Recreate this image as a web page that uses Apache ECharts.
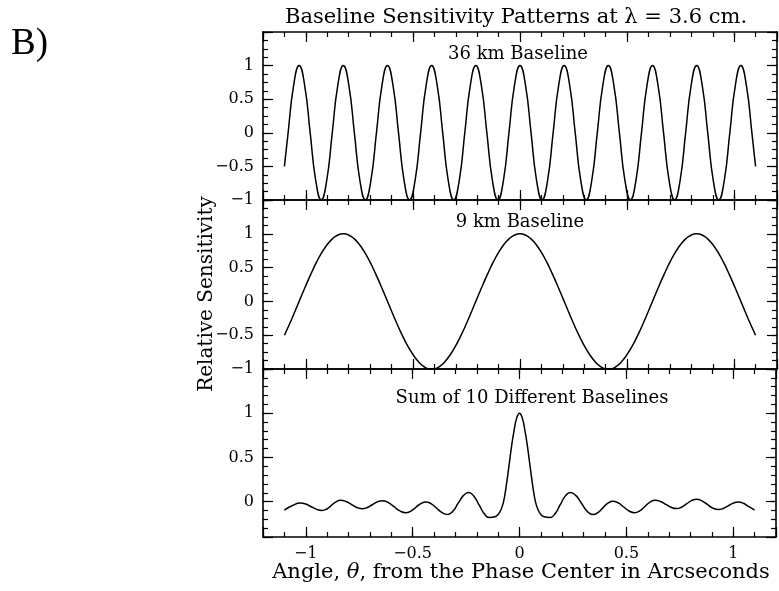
<!DOCTYPE html>
<html><head><meta charset="utf-8">
<script src="https://cdn.jsdelivr.net/npm/echarts@6/dist/echarts.min.js"></script>
<style>html,body{margin:0;padding:0;background:#fff}#c{width:779px;height:591px}</style>
</head><body><div id="c"></div>
<script>
// 36 km baseline (angle samples, sensitivity)
const x36 = [-1.1,-1.0828,-1.057,-1.0313,-1.0055,-0.9797,-0.9539,-0.9281,-0.9023,-0.8766,-0.8508,-0.825,-0.7992,-0.7734,-0.7477,-0.7219,-0.6961,-0.6703,-0.6445,-0.6188,-0.593,-0.5672,-0.5414,-0.5156,-0.4898,-0.4641,-0.4383,-0.4125,-0.3867,-0.3609,-0.3352,-0.3094,-0.2836,-0.2578,-0.232,-0.2063,-0.1805,-0.1547,-0.1289,-0.1031,-0.0773,-0.0516,-0.0258,0,0.0258,0.0516,0.0773,0.1031,0.1289,0.1547,0.1805,0.2063,0.232,0.2578,0.2836,0.3094,0.3352,0.3609,0.3867,0.4125,0.4383,0.4641,0.4898,0.5156,0.5414,0.5672,0.593,0.6188,0.6445,0.6703,0.6961,0.7219,0.7477,0.7734,0.7992,0.825,0.8508,0.8766,0.9023,0.9281,0.9539,0.9797,1.0055,1.0313,1.057,1.0828,1.1];
const y36 = [-0.5,
 0,0.707,1,0.707,0,-0.707,-1,-0.707,
 0,0.707,1,0.707,0,-0.707,-1,-0.707,
 0,0.707,1,0.707,0,-0.707,-1,-0.707,
 0,0.707,1,0.707,0,-0.707,-1,-0.707,
 0,0.707,1,0.707,0,-0.707,-1,-0.707,
 0,0.707,1,
 0.707,0,-0.707,-1,-0.707,0,0.707,1,
 0.707,0,-0.707,-1,-0.707,0,0.707,1,
 0.707,0,-0.707,-1,-0.707,0,0.707,1,
 0.707,0,-0.707,-1,-0.707,0,0.707,1,
 0.707,0,-0.707,-1,-0.707,0,0.707,1,
 0.707,0,
 -0.5];
// 9 km baseline
const x9 = [-1.1,-1.075,-1.05,-1.025,-1,-0.975,-0.95,-0.925,-0.9,-0.875,-0.85,-0.825,-0.8,-0.775,-0.75,-0.725,-0.7,-0.675,-0.65,-0.625,-0.6,-0.575,-0.55,-0.525,-0.5,-0.475,-0.45,-0.425,-0.4,-0.375,-0.35,-0.325,-0.3,-0.275,-0.25,-0.225,-0.2,-0.175,-0.15,-0.125,-0.1,-0.075,-0.05,-0.025,0,0.025,0.05,0.075,0.1,0.125,0.15,0.175,0.2,0.225,0.25,0.275,0.3,0.325,0.35,0.375,0.4,0.425,0.45,0.475,0.5,0.525,0.55,0.575,0.6,0.625,0.65,0.675,0.7,0.725,0.75,0.775,0.8,0.825,0.85,0.875,0.9,0.925,0.95,0.975,1,1.025,1.05,1.075,1.1];
const y9 = [-0.5,-0.327,-0.142,0.048,0.236,0.415,0.58,0.724,0.841,0.928,0.982,1,0.982,0.928,0.841,0.724,0.58,0.415,0.236,0.048,-0.142,-0.327,-0.5,-0.655,-0.786,-0.889,-0.96,-0.995,-0.995,-0.96,-0.889,-0.786,-0.655,-0.5,-0.327,-0.142,0.048,0.236,0.415,0.58,0.724,0.841,0.928,0.982,1,
 0.982,0.928,0.841,0.724,0.58,0.415,0.236,0.048,-0.142,-0.327,-0.5,-0.655,-0.786,-0.889,-0.96,-0.995,-0.995,-0.96,-0.889,-0.786,-0.655,-0.5,-0.327,-0.142,0.048,0.236,0.415,0.58,0.724,0.841,0.928,0.982,1,0.982,0.928,0.841,0.724,0.58,0.415,0.236,0.048,-0.142,-0.327,-0.5];
// Sum of 10 different baselines
const xSum = [-1.1,-1.0625,-1.025,-0.9995,-0.974,-0.9485,-0.923,-0.9015,-0.88,-0.8585,-0.837,-0.8115,-0.786,-0.7605,-0.735,-0.712,-0.6885,-0.665,-0.642,-0.6145,-0.587,-0.5595,-0.532,-0.5085,-0.485,-0.4615,-0.438,-0.4128,-0.3875,-0.3623,-0.337,-0.3123,-0.2875,-0.2628,-0.238,-0.2135,-0.189,-0.1645,-0.142,-0.115,-0.1,-0.0875,-0.075,-0.0625,-0.05,-0.0375,-0.025,-0.0125,0,
 0.0125,0.025,0.0375,0.05,0.0625,0.075,0.0875,0.1,0.115,0.142,0.166,0.19,0.214,0.238,0.2643,0.2905,0.3168,0.343,0.3665,0.39,0.4135,0.437,0.4623,0.4875,0.5128,0.538,0.5623,0.5865,0.6108,0.635,0.6598,0.6845,0.7093,0.734,0.7575,0.781,0.8045,0.828,0.8535,0.879,0.9045,0.93,0.9533,0.9765,0.9998,1.023,1.0473,1.0715,1.1];
const ySum = [-0.096,-0.044,-0.015,-0.0275,-0.0575,-0.0875,-0.1,-0.083,-0.0425,-0.002,0.015,0.001,-0.0325,-0.066,-0.08,-0.067,-0.035,-0.003,0.01,-0.01,-0.0575,-0.105,-0.125,-0.107,-0.0645,-0.022,-0.004,-0.025,-0.0745,-0.124,-0.145,-0.109,-0.0205,0.068,0.104,0.062,-0.038,-0.138,-0.18,-0.172,-0.145,-0.095,-0.005,0.17,0.39,0.62,0.81,0.95,1,
 0.95,0.81,0.62,0.39,0.17,-0.005,-0.095,-0.145,-0.172,-0.18,-0.138,-0.038,0.062,0.104,0.068,-0.0205,-0.109,-0.145,-0.123,-0.0705,-0.018,0.004,-0.015,-0.0605,-0.106,-0.125,-0.105,-0.055,-0.005,0.015,0.001,-0.0315,-0.064,-0.078,-0.063,-0.026,0.011,0.026,0.009,-0.032,-0.073,-0.09,-0.077,-0.047,-0.017,-0.004,-0.019,-0.0545,-0.095];
const xTickValues = [-1,-0.5,0,0.5,1];
const yTickValuesTop = [-1,-0.5,0,0.5,1];
const yTickValuesSum = [0,0.5,1];
const panelTitles = ['36 km Baseline','9 km Baseline','Sum of 10 Different Baselines'];
const mainTitle = 'Baseline Sensitivity Patterns at λ = 3.6 cm.';
const yName = 'Relative Sensitivity';

const FF = '"DejaVu Serif", serif';
const panels = [
  {top:32, height:168, ymin:-1, ymax:1.5, minor:0.125, labels:yTickValuesTop, tx:518, ty:54, xs:x36, ys:y36},
  {top:200, height:169, ymin:-1, ymax:1.5, minor:0.125, labels:yTickValuesTop, tx:520, ty:222, xs:x9, ys:y9},
  {top:369, height:168, ymin:-0.4, ymax:1.5, minor:0.1, labels:yTickValuesSum, tx:532, ty:398, xs:xSum, ys:ySum}
];
function fmt(v){ const r = Math.round(v*1000)/1000; return (r<0?'\u2212':'')+Math.abs(r); }
function inList(v, list){ return list.some(t=>Math.abs(t-v)<1e-6); }

const grid=[], xAxis=[], yAxis=[], series=[], graphic=[];
const axLine = {show:true, onZero:false, lineStyle:{color:'#000', width:1.6}};
const tickStyle = {color:'#000', width:1.2};
panels.forEach((p,i)=>{
  grid.push({left:263, right:2, top:p.top, height:p.height, show:false});
  ['bottom','top'].forEach(pos=>{
    xAxis.push({gridIndex:i, type:'value', position:pos, min:-1.2, max:1.2, splitNumber:5, minInterval:0.5, maxInterval:0.5,
      axisLine:axLine, axisTick:{show:true, inside:true, length:10, lineStyle:tickStyle},
      axisLabel:{show: i===2 && pos==='bottom', margin:9, color:'#000', fontFamily:FF, fontSize:16,
        formatter: v=> inList(v,xTickValues)?fmt(v):''},
      splitLine:{show:false}});
  });
  ['bottom','top'].forEach(pos=>{
    xAxis.push({gridIndex:i, type:'value', position:pos, min:-1.2, max:1.2, interval:0.1,
      axisLine:{show:false, onZero:false}, axisTick:{show:true, inside:true, length:5, lineStyle:tickStyle},
      axisLabel:{show:false}, splitLine:{show:false}});
  });
  ['left','right'].forEach(pos=>{
    yAxis.push({gridIndex:i, type:'value', position:pos, min:p.ymin, max:p.ymax, splitNumber:4, minInterval:0.5, maxInterval:0.5,
      axisLine:axLine, axisTick:{show:true, inside:true, length:10, lineStyle:tickStyle},
      axisLabel:{show: pos==='left', margin:9, color:'#000', fontFamily:FF, fontSize:16,
        formatter: v=> inList(v,p.labels)?fmt(v):''},
      splitLine:{show:false}});
  });
  ['left','right'].forEach(pos=>{
    yAxis.push({gridIndex:i, type:'value', position:pos, min:p.ymin, max:p.ymax, interval:p.minor,
      axisLine:{show:false, onZero:false}, axisTick:{show:true, inside:true, length:5, lineStyle:tickStyle},
      axisLabel:{show:false}, splitLine:{show:false}});
  });
  series.push({type:'line', xAxisIndex:4*i, yAxisIndex:4*i, smooth:0.5, showSymbol:false, symbol:'none',
    data: p.xs.map((v,j)=>[v,p.ys[j]]), lineStyle:{color:'#000', width:1.5}});
  graphic.push({type:'text', x:p.tx, y:p.ty, style:{text:panelTitles[i], fontSize:18, fontFamily:FF, fill:'#000', align:'center', verticalAlign:'middle'}});
});
graphic.push({type:'text', x:516, y:18, style:{text:mainTitle, fontSize:21, fontFamily:FF, fill:'#000', align:'center', verticalAlign:'middle'}});
graphic.push({type:'text', x:11, y:44, style:{text:'B)', fontSize:37, fontFamily:'"Liberation Serif", serif', fill:'#000', align:'left', verticalAlign:'middle'}});
graphic.push({type:'text', x:207, y:294, rotation:Math.PI/2, style:{text:yName, fontSize:20, fontFamily:FF, fill:'#000', align:'center', verticalAlign:'middle'}});
graphic.push({type:'text', x:521, y:573, style:{text:'{a|Angle, }{b|θ}{a|, from the Phase Center in Arcseconds}', fill:'#000', align:'center', verticalAlign:'middle',
  rich:{a:{fontSize:21, fontFamily:FF, fill:'#000'}, b:{fontSize:21, fontFamily:FF, fontStyle:'italic', fill:'#000'}}}});

const chart = echarts.init(document.getElementById('c'), null, {renderer:'canvas'});
chart.setOption({animation:false, backgroundColor:'#fff', grid, xAxis, yAxis, series, graphic});
</script></body></html>
